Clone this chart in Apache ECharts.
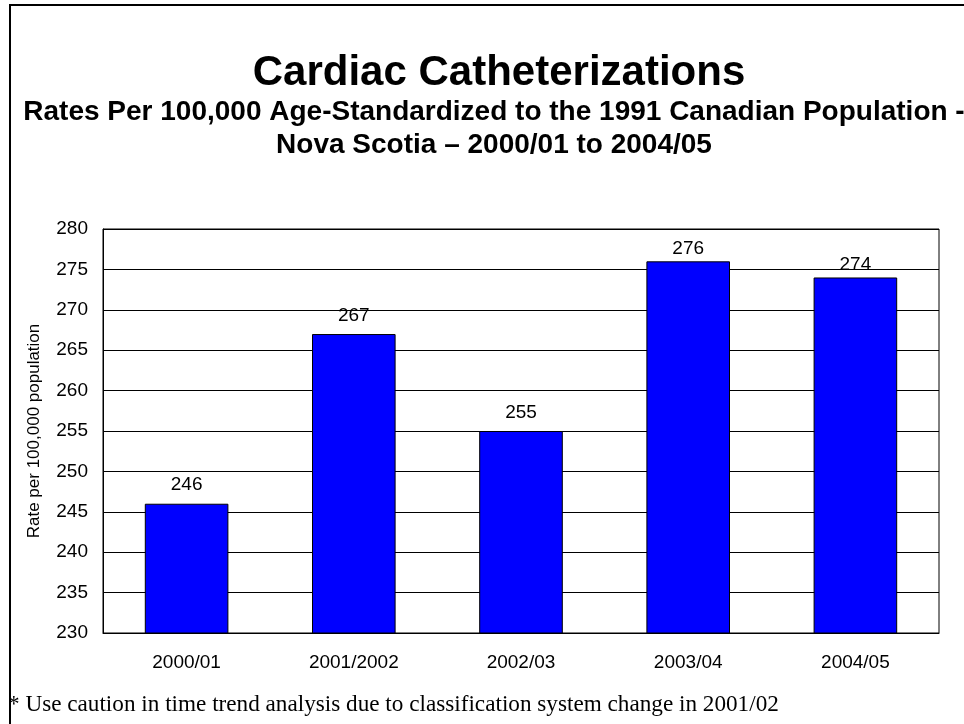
<!DOCTYPE html>
<html>
<head>
<meta charset="utf-8">
<script src="https://cdn.jsdelivr.net/npm/echarts@6/dist/echarts.min.js"></script>
<style>
html,body{margin:0;padding:0;background:#fff;}
#chart{width:964px;height:724px;}
</style>
</head>
<body>
<div id="chart"></div>
<script>
const categories = ['2000/01', '2001/2002', '2002/03', '2003/04', '2004/05'];
const rates = [246, 267, 255, 276, 274];
const yMin = 230, yMax = 280, yStep = 5;
// label gap above each bar (styling, not data)
const labelGaps = [9, 9, 9, 3, 3];

const chart = echarts.init(document.getElementById('chart'), null, {renderer: 'canvas'});
chart.setOption({
  animation: false,
  backgroundColor: '#fff',
  title: [
    {text: 'Cardiac Catheterizations', left: 494, top: 47, textAlign: 'center',
     textStyle: {fontFamily: 'Liberation Sans, Arial', fontWeight: 'bold', fontSize: 42, color: '#000'}},
    {text: 'Rates Per 100,000 Age-Standardized to the 1991 Canadian Population -\nNova Scotia \u2013 2000/01 to 2004/05',
     left: 489, top: 91, textAlign: 'center',
     textStyle: {fontFamily: 'Liberation Sans, Arial', fontWeight: 'bold', fontSize: 28, lineHeight: 33, color: '#000'}}
  ],
  graphic: [
    {type: 'line', shape: {x1: 9, y1: 5, x2: 964, y2: 5}, style: {stroke: '#000', lineWidth: 2}},
    {type: 'line', shape: {x1: 10, y1: 5, x2: 10, y2: 724}, style: {stroke: '#000', lineWidth: 2}},
    {type: 'text', left: 8, top: 693, style: {text: '* Use caution in time trend analysis due to classification system change in 2001/02',
      font: '23.2px "Liberation Serif", "Times New Roman", serif', fill: '#000'}}
  ],
  grid: {left: 103, top: 229, width: 836, height: 404, show: true, borderColor: '#000', borderWidth: 1, containLabel: false},
  xAxis: {
    type: 'category', data: categories,
    axisLine: {show: true, lineStyle: {color: '#000', width: 1}},
    axisTick: {show: false},
    axisLabel: {color: '#000', fontSize: 19, fontFamily: 'Liberation Sans, Arial', margin: 20}
  },
  yAxis: {
    type: 'value', min: yMin, max: yMax, interval: yStep,
    name: 'Rate per 100,000 population', nameLocation: 'middle', nameGap: 60, nameRotate: 90,
    nameTextStyle: {color: '#000', fontSize: 17, fontFamily: 'Liberation Sans, Arial'},
    axisLine: {show: true, lineStyle: {color: '#000', width: 1}},
    axisTick: {show: false},
    axisLabel: {color: '#000', fontSize: 19, fontFamily: 'Liberation Sans, Arial', margin: 15},
    splitLine: {show: true, lineStyle: {color: '#000', width: 1}}
  },
  series: [{
    type: 'bar', barWidth: '50%',
    data: rates.map((v, i) => ({value: v, label: {distance: labelGaps[i]}})),
    itemStyle: {color: '#0000FF', borderColor: '#000', borderWidth: 1},
    label: {show: true, position: 'top', distance: 9, color: '#000', fontSize: 19, fontFamily: 'Liberation Sans, Arial'}
  }]
});
</script>
</body>
</html>
